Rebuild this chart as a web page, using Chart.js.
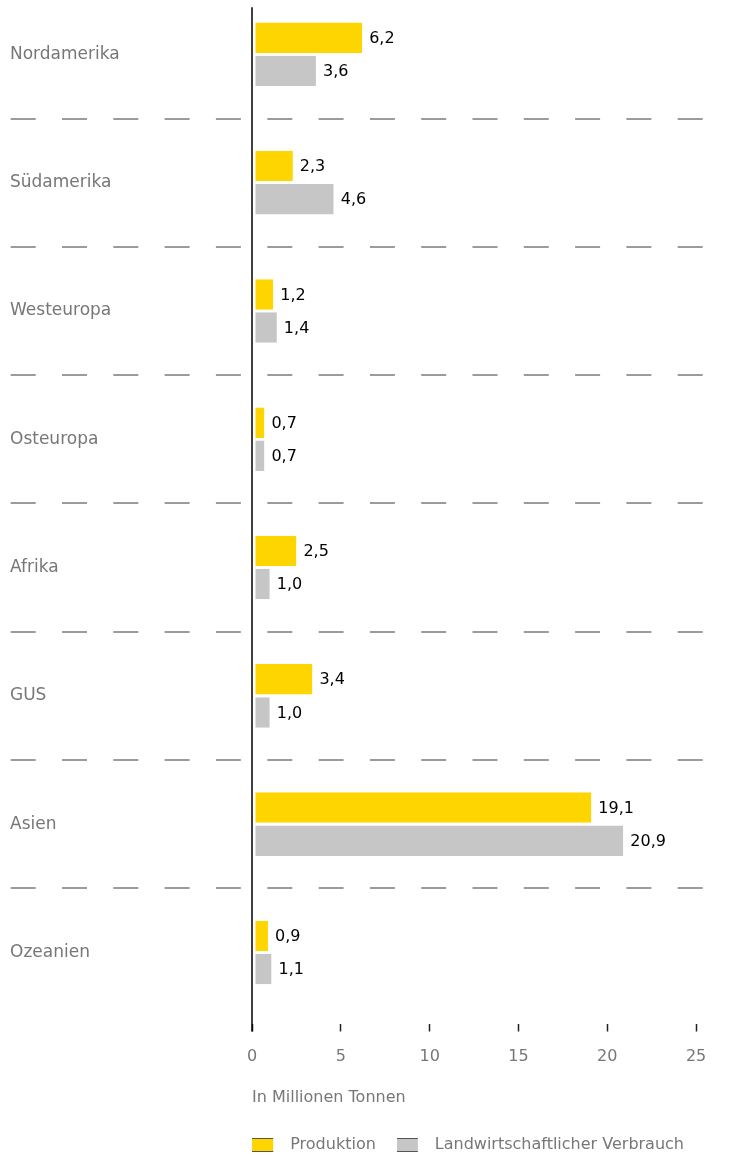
<!DOCTYPE html>
<html lang="de">
<head>
<meta charset="utf-8">
<title>Produktion und landwirtschaftlicher Verbrauch</title>
<script src="https://cdn.jsdelivr.net/npm/chart.js@4/dist/chart.umd.min.js"></script>
<style>
  html, body { margin: 0; padding: 0; background: #fff; overflow: hidden; }
  #wrap { position: relative; width: 733px; height: 1155px; overflow: hidden; }
  #chart { position: absolute; left: 0; top: -20px; }
</style>
</head>
<body>
<div id="wrap"><canvas id="chart" width="733" height="1183"></canvas></div>
<script>
// Daten
const regionen = ["Nordamerika", "Südamerika", "Westeuropa", "Osteuropa", "Afrika", "GUS", "Asien", "Ozeanien"];
const produktion = [6.2, 2.3, 1.2, 0.7, 2.5, 3.4, 19.1, 0.9];
const verbrauch = [3.6, 4.6, 1.4, 0.7, 1.0, 1.0, 20.9, 1.1];
const achsenWerte = [0, 5, 10, 15, 20, 25];
const serien = ["Produktion", "Landwirtschaftlicher Verbrauch"];
const achsenTitel = "In Millionen Tonnen";

const GELB = "#ffd500";
const GRAU = "#c6c6c6";
const TEXTGRAU = "#777777";
const LINIENGRAU = "#9b9b9b";
const SCHRIFT = '"DejaVu Sans", sans-serif';

// Kästchen für die Legende, rechts etwas Luft bis zum Text
function legendenBox(farbe) {
    const c = document.createElement("canvas");
    c.width = 30;
    c.height = 14;
    const g = c.getContext("2d");
    g.fillStyle = farbe;
    g.fillRect(0, 0, 21, 14);
    g.fillStyle = "#555";
    g.fillRect(0, 0, 21, 1);
    g.fillRect(0, 13, 21, 1);
    return c;
}
const boxen = [legendenBox(GELB), legendenBox(GRAU)];

// Werte rechts neben die Balken schreiben
const wertLabels = {
    id: "wertLabels",
    afterDatasetsDraw(chart) {
        const ctx = chart.ctx;
        ctx.save();
        ctx.font = "16px " + SCHRIFT;
        ctx.fillStyle = "#000";
        ctx.textAlign = "left";
        ctx.textBaseline = "middle";
        chart.data.datasets.forEach((ds, i) => {
            chart.getDatasetMeta(i).data.forEach((bar, j) => {
                const text = ds.data[j].toFixed(1).replace(".", ",");
                ctx.fillText(text, bar.x + 7, bar.y + 1);
            });
        });
        ctx.restore();
    }
};

// senkrechte Nulllinie, reicht bis zu den Strichen der x-Achse
const nullLinie = {
    id: "nullLinie",
    afterDatasetsDraw(chart) {
        const { ctx, chartArea, scales } = chart;
        const x = scales.x.getPixelForValue(0);
        ctx.save();
        ctx.strokeStyle = "#000";
        ctx.lineWidth = 1.5;
        ctx.beginPath();
        ctx.moveTo(x, chartArea.top + 17);
        ctx.lineTo(x, chartArea.bottom + 15);
        ctx.stroke();
        ctx.restore();
    }
};

// nur die Trennlinien zwischen den Regionen zeigen
const trennFarbe = (c) => (c.type === "tick" && c.index > 0) ? LINIENGRAU : "rgba(0,0,0,0)";

const balken = (label, werte, farbe) => ({
    label: label,
    data: werte,
    backgroundColor: farbe,
    borderColor: "#fff",
    borderWidth: { left: 3, top: 0, right: 0, bottom: 0 },
    borderSkipped: false,
    categoryPercentage: 0.516,
    barPercentage: 0.92
});

const ctx = document.getElementById("chart").getContext("2d");
const chart = new Chart(ctx, {
    type: "bar",
    data: {
        labels: regionen,
        datasets: [
            balken(serien[0], produktion, GELB),
            balken(serien[1], verbrauch, GRAU)
        ]
    },
    options: {
        indexAxis: "y",
        responsive: false,
        animation: false,
        events: [],
        layout: { padding: { left: 10, right: 28, top: 0, bottom: 0 } },
        scales: {
            x: {
                type: "linear",
                position: "bottom",
                min: 0,
                max: 25.5,
                afterBuildTicks(scale) {
                    scale.ticks = achsenWerte.map(v => ({ value: v }));
                },
                grid: {
                    drawOnChartArea: false,
                    drawTicks: true,
                    tickLength: 15,
                    tickColor: "#222",
                    tickWidth: 1.5,
                    tickBorderDash: [0, 7, 8, 100]
                },
                border: { display: false },
                ticks: {
                    color: TEXTGRAU,
                    font: { family: SCHRIFT, size: 16 },
                    padding: 16
                },
                title: {
                    display: true,
                    text: achsenTitel,
                    align: "start",
                    color: TEXTGRAU,
                    font: { family: SCHRIFT, size: 16 },
                    padding: { top: 5, bottom: 9 }
                }
            },
            y: {
                type: "category",
                offset: true,
                grid: {
                    offset: true,
                    color: trennFarbe,
                    tickColor: trennFarbe,
                    lineWidth: 2,
                    tickWidth: 2,
                    tickBorderDash: [25, 26.3],
                    tickBorderDashOffset: 0,
                    drawTicks: true,
                    tickLength: 241.3
                },
                border: { display: false, dash: [25, 26.3], dashOffset: 36 },
                ticks: {
                    color: TEXTGRAU,
                    font: { family: SCHRIFT, size: 17 },
                    crossAlign: "far",
                    padding: 0
                },
                afterFit(scale) {
                    scale.width = 242;
                }
            }
        },
        plugins: {
            tooltip: { enabled: false },
            legend: {
                position: "bottom",
                align: "end",
                labels: {
                    usePointStyle: true,
                    pointStyleWidth: 30,
                    padding: 21,
                    color: TEXTGRAU,
                    font: { family: SCHRIFT, size: 16 },
                    generateLabels: (ch) => ch.data.datasets.map((ds, i) => ({
                        text: ds.label,
                        pointStyle: boxen[i],
                        fillStyle: ds.backgroundColor,
                        strokeStyle: "rgba(0,0,0,0)",
                        lineWidth: 0,
                        hidden: false,
                        datasetIndex: i,
                        fontColor: TEXTGRAU
                    }))
                }
            }
        }
    },
    plugins: [wertLabels, nullLinie]
});
</script>
</body>
</html>
